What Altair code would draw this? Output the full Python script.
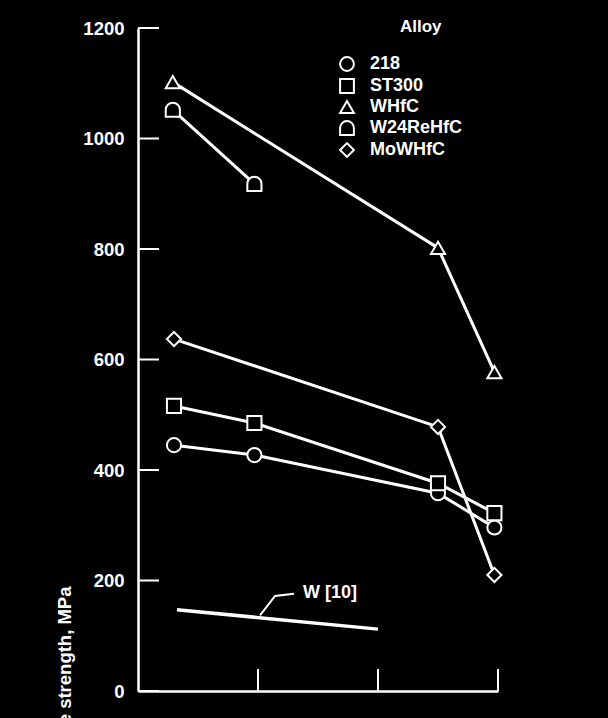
import altair as alt
import pandas as pd

# ---- data ----
alloys = ["218", "ST300", "WHfC", "W24ReHfC", "MoWHfC"]
x_218 = [0.30, 0.97, 2.50, 2.97]
y_218 = [445, 427, 358, 296]
x_st300 = [0.30, 0.97, 2.50, 2.97]
y_st300 = [516, 485, 376, 322]
x_whfc = [0.29, 2.50, 2.97]
y_whfc = [1102, 802, 577]
x_w24 = [0.29, 0.97]
y_w24 = [1052, 918]
x_mowhfc = [0.30, 2.50, 2.97]
y_mowhfc = [637, 478, 210]

w10_x = [0.325, 2.0]
w10_y = [147, 112]
w10_label = "W [10]"
w10_label_x = [1.375]
w10_label_y = [177]
leader_x = [1.017, 1.142, 1.30]
leader_y = [137, 172, 176]

y_ticks = [0, 200, 400, 600, 800, 1000, 1200]
x_ticks = [1, 2, 3]

FONT = "Liberation Sans"
W, H = 360, 663

rows = []
for name, xs, ys in [("218", x_218, y_218), ("ST300", x_st300, y_st300),
                     ("WHfC", x_whfc, y_whfc), ("W24ReHfC", x_w24, y_w24),
                     ("MoWHfC", x_mowhfc, y_mowhfc)]:
    for a, b in zip(xs, ys):
        rows.append({"alloy": name, "x": a, "y": b})
df = pd.DataFrame(rows)
df_w10 = pd.DataFrame({"x": w10_x, "y": w10_y})
df_lead = pd.DataFrame({"x": leader_x, "y": leader_y, "o": list(range(len(leader_x)))})
df_lab = pd.DataFrame({"x": w10_label_x, "y": w10_label_y, "t": [w10_label]})
df_yt = pd.DataFrame({"v": y_ticks})
df_xt = pd.DataFrame({"v": x_ticks})

arch = "M-1,1L-1,0C-1,-0.552,-0.552,-1,0,-1C0.552,-1,1,-0.552,1,0L1,1Z"
shape_range = ["circle", "square", "triangle-up", arch, "diamond"]

xs = alt.Scale(domain=[0, 3], nice=False, zero=False)
ys = alt.Scale(domain=[0, 1200], nice=False)

x_enc = alt.X("x:Q", scale=xs,
              axis=alt.Axis(title=None, labels=False, ticks=False, grid=False,
                            domainColor="white", domainWidth=2.5, values=x_ticks))
y_enc = alt.Y("y:Q", scale=ys,
              axis=alt.Axis(title="Tensile strength, MPa", values=y_ticks, format="d",
                            ticks=False, grid=False, domainColor="white", domainWidth=2.5,
                            labelColor="white", labelFont=FONT, labelFontSize=18.5,
                            labelFontWeight="bold", labelPadding=14,
                            titleColor="white", titleFont=FONT, titleFontSize=18.5,
                            titleFontWeight="bold", titleAngle=270, titleAlign="right",
                            titleBaseline="alphabetic", titleX=-68, titleY=558))

lines = alt.Chart(df).mark_line(color="white", strokeWidth=3).encode(
    x=x_enc, y=y_enc, detail="alloy:N")

leg = alt.Legend(title="Alloy", orient="none", legendX=200, legendY=-9,
                 symbolSize=190, symbolStrokeWidth=2,
                 labelColor="white", labelFont=FONT, labelFontSize=18,
                 labelFontWeight="bold", labelOffset=14,
                 titleColor="white", titleFont=FONT, titleFontSize=17,
                 titleFontWeight="bold", titleAnchor="middle", titleAlign="left",
                 titlePadding=19, rowPadding=0)

points = alt.Chart(df).mark_point(strokeWidth=2, size=200, opacity=1, fillOpacity=1).encode(
    x=alt.X("x:Q", scale=xs), y=alt.Y("y:Q", scale=ys),
    shape=alt.Shape("alloy:N", scale=alt.Scale(domain=alloys, range=shape_range), legend=leg),
    stroke=alt.Stroke("alloy:N", scale=alt.Scale(domain=alloys, range=["white"] * 5), legend=leg),
    fill=alt.Fill("alloy:N", scale=alt.Scale(domain=alloys, range=["black"] * 5), legend=leg),
)

w10 = alt.Chart(df_w10).mark_line(color="white", strokeWidth=3.5).encode(
    x=alt.X("x:Q", scale=xs), y=alt.Y("y:Q", scale=ys))
lead = alt.Chart(df_lead).mark_line(color="white", strokeWidth=2).encode(
    x=alt.X("x:Q", scale=xs), y=alt.Y("y:Q", scale=ys), order="o:Q")
lab = alt.Chart(df_lab).mark_text(color="white", font=FONT, fontSize=18, fontWeight="bold",
                                  align="left", baseline="middle").encode(
    x=alt.X("x:Q", scale=xs), y=alt.Y("y:Q", scale=ys), text="t:N")

ytick = alt.Chart(df_yt).mark_rule(color="white", strokeWidth=2).encode(
    y=alt.Y("v:Q", scale=ys), x=alt.value(0), x2=alt.value(21))
xtick = alt.Chart(df_xt).mark_rule(color="white", strokeWidth=2).encode(
    x=alt.X("v:Q", scale=xs), y=alt.value(H), y2=alt.value(H - 22))

chart = alt.layer(lines, w10, lead, lab, ytick, xtick, points).properties(
    width=W, height=H,
    autosize=alt.AutoSizeParams(type="none"),
    padding={"left": 138, "top": 28, "right": 608 - 138 - W, "bottom": 718 - 28 - H},
    background="black",
).configure_view(stroke=None)

chart.save("out.html", embed_options={"renderer": "svg", "actions": False})
